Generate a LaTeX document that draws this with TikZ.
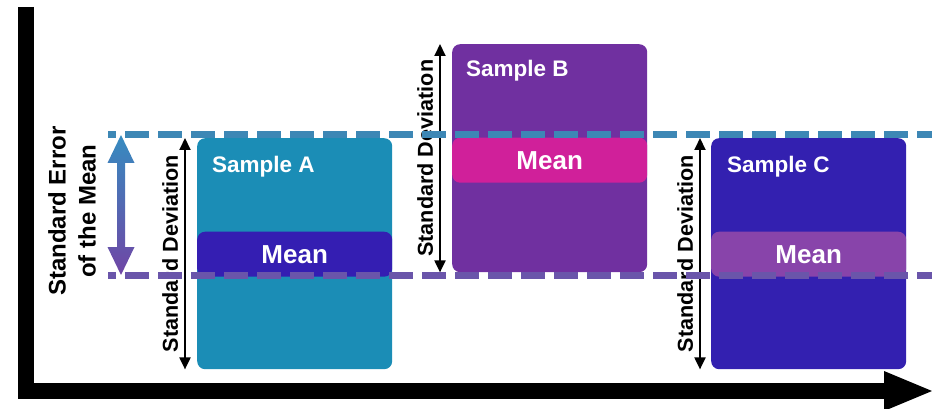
\documentclass[tikz,border=0pt]{standalone}
\usepackage{fontspec}
\setmainfont{Liberation Sans}
\usetikzlibrary{arrows.meta}

\definecolor{sampleA}{HTML}{1B8DB6}
\definecolor{sampleB}{HTML}{7030A0}
\definecolor{sampleC}{HTML}{3320B0}
\definecolor{meanA}{HTML}{341EB2}
\definecolor{meanB}{HTML}{D0209A}
\definecolor{meanC}{HTML}{8844AA}
\definecolor{upperline}{HTML}{3D87B5}
\definecolor{lowerline}{HTML}{6A55AA}
\definecolor{semtop}{HTML}{368CC0}
\definecolor{sembottom}{HTML}{7045A5}

\begin{document}
\begin{tikzpicture}
  [ x=1pt, y=-1pt,
    sample box/.style={rounded corners=8pt, minimum width=195pt,
      minimum height=231pt, inner sep=0pt, anchor=north west},
    mean bar/.style={rounded corners=8pt, minimum width=195pt,
      minimum height=45pt, inner sep=0pt, anchor=north, text=white,
      font=\bfseries\fontsize{26}{28}\selectfont},
    sample label/.style={anchor=base west, text=white, inner sep=0pt,
      font=\bfseries\fontsize{22.5}{24}\selectfont},
    sd arrow/.style={line width=2pt,
      {Triangle[length=12pt,width=11pt]}-{Triangle[length=12pt,width=11pt]}},
    sd label/.style={midway, sloped, above=6pt, inner sep=0pt,
      font=\bfseries\fontsize{21.6}{23}\selectfont},
    mean line/.style={line width=7pt, dash pattern=on 24pt off 9pt,
      dash phase=16pt}, ]

  \useasboundingbox (0,0) rectangle (932,409);

  % samples
  \node[sample box, fill=sampleA] (boxA) at (197,138) {};
  \node[sample box, fill=sampleB, minimum height=228pt] (boxB) at (452,44) {};
  \node[sample box, fill=sampleC] (boxC) at (711,138) {};

  \node[mean bar, fill=meanA] (meanA) at ([yshift=-93.5pt]boxA.north) {Mean};
  \node[mean bar, fill=meanB] (meanB) at ([yshift=-93.5pt]boxB.north) {Mean};
  \node[mean bar, fill=meanC] (meanC) at ([yshift=-93.5pt]boxC.north) {Mean};

  \node[sample label] (labelA) at ([xshift=15pt,yshift=-34pt]boxA.north west) {Sample A};
  \node[sample label] (labelB) at ([xshift=14pt,yshift=-33pt]boxB.north west) {Sample B};
  \node[sample label] (labelC) at ([xshift=16pt,yshift=-34pt]boxC.north west) {Sample C};

  % standard deviations
  \draw[sd arrow] ([xshift=-12pt]boxA.south west) -- ([xshift=-12pt]boxA.north west)
    node[sd label] {Standard Deviation};
  \draw[sd arrow] ([xshift=-12pt]boxB.south west) -- ([xshift=-12pt]boxB.north west)
    node[sd label] {Standard Deviation};
  \draw[sd arrow] ([xshift=-11pt]boxC.south west) -- ([xshift=-11pt]boxC.north west)
    node[sd label] {Standard Deviation};

  % range of the means
  \coordinate (upper left) at (108,135);
  \coordinate (upper right) at (932,135);
  \coordinate (lower left) at (108,275);
  \coordinate (lower right) at (932,275);

  \draw[mean line, upperline] (upper left) -- (upper right);
  \draw[mean line, lowerline] (lower left) -- (lower right);

  \shade[top color=semtop, bottom color=sembottom]
    (121,135) -- (134.5,163) -- (125,163) -- (125,247) -- (134.5,247)
    -- (121,275) -- (107.5,247) -- (117,247) -- (117,163) -- (107.5,163) -- cycle;

  \node[rotate=90, align=center, inner sep=0pt,
    font=\bfseries\fontsize{24}{30}\selectfont] (semlabel) at (72,211)
    {Standard Error\\of the Mean};

  % axes
  \coordinate (y top) at (26,7);
  \coordinate (corner) at (26,391);
  \coordinate (x end) at (884,391);

  \draw[line width=16pt] (y top) -- (corner) -- (x end);
  \fill ([yshift=20pt]x end) -- (932,391) -- ([yshift=-20pt]x end) -- cycle;

\end{tikzpicture}
\end{document}
